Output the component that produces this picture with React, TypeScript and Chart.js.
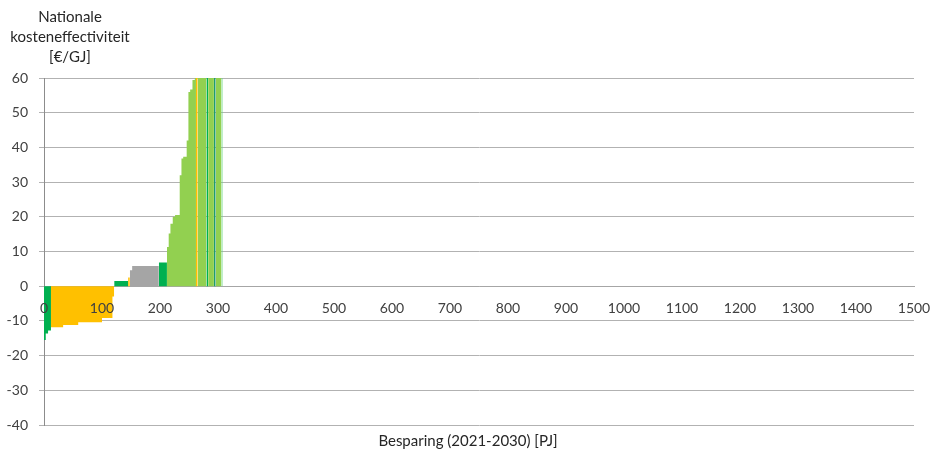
import { useEffect, useRef } from "react";
import { Chart, registerables } from "chart.js";

Chart.register(...registerables);

// Width of each measure (PJ saved, 2021-2030), in cost order
const measureWidths = [3, 4, 5, 21, 26, 41, 18, 3, 24, 3, 4, 46, 14, 3, 3, 4, 4, 8, 3, 3, 6, 3, 3, 4, 4, 2, 3, 15, 3, 10, 3, 10, 2];
// National cost-effectiveness of each measure (€/GJ); values above 60 run off the top of the axis
const measureCosts = [-15.5, -13.6, -12.8, -11.8, -11.2, -10.4, -9.2, -3, 1.5, 2.5, 4.6, 5.8, 6.8, 11.3, 15.2, 18, 20, 20.5, 32, 36.8, 37.3, 42, 56, 56.7, 59.4, 70, 80, 90, 100, 110, 120, 130, 150];
// Colour group of each measure
const measureGroups = ["G", "G", "G", "Y", "Y", "Y", "Y", "Y", "G", "Y", "A", "A", "G", "L", "L", "L", "L", "L", "L", "L", "L", "L", "L", "L", "L", "L", "Y", "L", "G", "L", "T", "L", "M"];

const groupColors: Record<string, string> = {
  G: "#00B050",
  Y: "#FFC000",
  A: "#A5A5A5",
  L: "#92D050",
  T: "#1E9A6E",
  M: "#5FD67E",
};

const yTicksMin = -40;
const yTicksMax = 60;
const yStep = 10;
const xTicksMin = 0;
const xTicksMax = 1500;
const xStep = 100;

const yTitleLines = ["Nationale", "kosteneffectiviteit", "[€/GJ]"];
const xTitle = "Besparing (2021-2030) [PJ]";

function buildDatasets() {
  const datasets: any[] = [];
  let start = 0;
  let current: any = null;
  let currentGroup = "";
  measureWidths.forEach((w, i) => {
    const x0 = start;
    const x1 = start + w;
    start = x1;
    const g = measureGroups[i];
    if (!current || g !== currentGroup) {
      current = {
        type: "line",
        data: [],
        fill: "origin",
        backgroundColor: groupColors[g],
        borderWidth: 0,
        borderColor: "rgba(0,0,0,0)",
        pointRadius: 0,
        pointHoverRadius: 0,
        tension: 0,
      };
      currentGroup = g;
      datasets.push(current);
    }
    current.data.push({ x: x0, y: measureCosts[i] });
    current.data.push({ x: x1, y: measureCosts[i] });
  });
  return datasets;
}

export default function App() {
  const canvasRef = useRef<HTMLCanvasElement | null>(null);

  useEffect(() => {
    if (!canvasRef.current) return;
    const chart = new Chart(canvasRef.current, {
      type: "line",
      data: { datasets: buildDatasets() },
      options: {
        animation: false,
        responsive: true,
        maintainAspectRatio: false,
        layout: { autoPadding: false, padding: { left: 0, top: 78, right: 16, bottom: 30 } },
        plugins: {
          legend: { display: false },
          tooltip: { enabled: false },
        },
        events: [],
        scales: {
          x: {
            type: "linear",
            position: { y: 0 } as any,
            min: xTicksMin,
            max: xTicksMax,
            afterFit: (scale: any) => {
              scale.paddingLeft = 0;
              scale.paddingRight = 0;
              scale.height = 0;
            },
            ticks: {
              stepSize: xStep,
              color: "#404040",
              font: { family: "Lato", size: 14 },
              padding: 14,
              maxRotation: 0,
              z: 1,
              callback: (v: any) => String(v),
            },
            grid: { display: false, drawTicks: false },
            border: { display: true, color: "#A6A6A6", width: 1 },
          },
          y: {
            type: "linear",
            min: yTicksMin,
            max: yTicksMax,
            afterFit: (scale: any) => {
              scale.width = 44;
            },
            ticks: {
              stepSize: yStep,
              color: "#404040",
              font: { family: "Lato", size: 14 },
              padding: 11,
              callback: (v: any) => String(v),
            },
            grid: { color: "#B2B2B2", lineWidth: 1, tickLength: 5 },
            border: { display: true, color: "#8C8C8C", width: 1 },
          },
        },
      },
    });
    return () => chart.destroy();
  }, []);

  return (
    <div style={{ position: "absolute", left: 0, top: 0, width: 930, height: 455, background: "#fff", fontFamily: "Lato, sans-serif" }}>
      <canvas ref={canvasRef} />
      <div
        style={{
          position: "absolute",
          left: 0,
          top: 6,
          width: 140,
          textAlign: "center",
          fontSize: 15,
          lineHeight: "20px",
          color: "#262626",
        }}
      >
        {yTitleLines.map((l) => (
          <div key={l}>{l}</div>
        ))}
      </div>
      <div
        style={{
          position: "absolute",
          left: 0,
          top: 430,
          width: 936,
          textAlign: "center",
          fontSize: 15,
          lineHeight: "20px",
          color: "#262626",
        }}
      >
        {xTitle}
      </div>
    </div>
  );
}
